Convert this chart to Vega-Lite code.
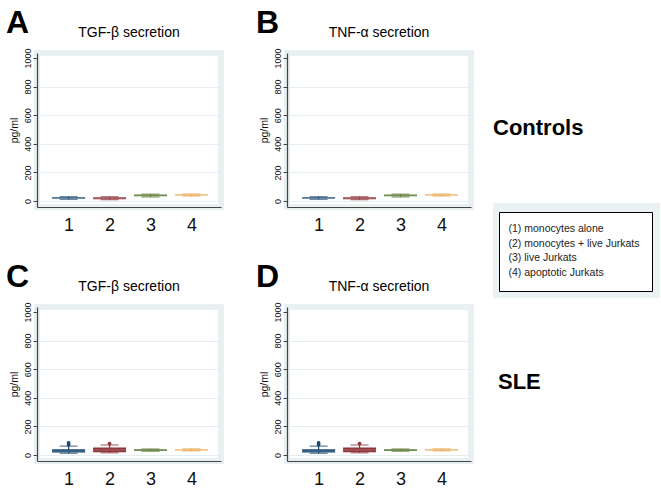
{
  "$schema": "https://vega.github.io/schema/vega-lite/v6.json",
  "padding": {"left": 5, "top": 6, "right": 0, "bottom": 0},
  "background": "white",
  "datasets": {
    "boxes": [
      {"panel": "A", "g": 1, "label": "(1) monocytes alone", "lo": 12, "q1": 15, "med": 20, "q3": 27, "hi": 30},
      {"panel": "A", "g": 2, "label": "(2) monocytes + live Jurkats", "lo": 9, "q1": 13, "med": 20, "q3": 27, "hi": 30},
      {"panel": "A", "g": 3, "label": "(3) live Jurkats", "lo": 28, "q1": 33, "med": 40, "q3": 46, "hi": 48},
      {"panel": "A", "g": 4, "label": "(4) apoptotic Jurkats", "lo": 35, "q1": 38, "med": 43, "q3": 47, "hi": 49},
      {"panel": "B", "g": 1, "label": "(1) monocytes alone", "lo": 12, "q1": 15, "med": 20, "q3": 27, "hi": 30},
      {"panel": "B", "g": 2, "label": "(2) monocytes + live Jurkats", "lo": 9, "q1": 13, "med": 20, "q3": 27, "hi": 30},
      {"panel": "B", "g": 3, "label": "(3) live Jurkats", "lo": 28, "q1": 33, "med": 40, "q3": 46, "hi": 48},
      {"panel": "B", "g": 4, "label": "(4) apoptotic Jurkats", "lo": 35, "q1": 38, "med": 43, "q3": 47, "hi": 49},
      {"panel": "C", "g": 1, "label": "(1) monocytes alone", "lo": 12, "q1": 18, "med": 28, "q3": 40, "hi": 62},
      {"panel": "C", "g": 2, "label": "(2) monocytes + live Jurkats", "lo": 15, "q1": 20, "med": 35, "q3": 52, "hi": 70},
      {"panel": "C", "g": 3, "label": "(3) live Jurkats", "lo": 26, "q1": 28, "med": 34, "q3": 40, "hi": 42},
      {"panel": "C", "g": 4, "label": "(4) apoptotic Jurkats", "lo": 29, "q1": 31, "med": 36, "q3": 41, "hi": 43},
      {"panel": "D", "g": 1, "label": "(1) monocytes alone", "lo": 12, "q1": 18, "med": 28, "q3": 40, "hi": 62},
      {"panel": "D", "g": 2, "label": "(2) monocytes + live Jurkats", "lo": 15, "q1": 20, "med": 35, "q3": 52, "hi": 70},
      {"panel": "D", "g": 3, "label": "(3) live Jurkats", "lo": 26, "q1": 28, "med": 34, "q3": 40, "hi": 42},
      {"panel": "D", "g": 4, "label": "(4) apoptotic Jurkats", "lo": 29, "q1": 31, "med": 36, "q3": 41, "hi": 43}
    ],
    "outliers": [
      {"panel": "C", "g": 1, "label": "(1) monocytes alone", "v": 72},
      {"panel": "C", "g": 1, "label": "(1) monocytes alone", "v": 85},
      {"panel": "C", "g": 2, "label": "(2) monocytes + live Jurkats", "v": 80},
      {"panel": "D", "g": 1, "label": "(1) monocytes alone", "v": 72},
      {"panel": "D", "g": 1, "label": "(1) monocytes alone", "v": 85},
      {"panel": "D", "g": 2, "label": "(2) monocytes + live Jurkats", "v": 80}
    ],
    "empty": []
  },
  "hconcat": [
    {
      "hconcat": [
        {
          "vconcat": [
            {
              "title": {"text": "A", "anchor": "start", "frame": "bounds", "fontSize": 32, "fontWeight": "bold", "offset": -17},
              "vconcat": [
                {
                  "width": 184, "height": 154,
                  "title": {"text": "TGF-β secretion", "fontSize": 14, "fontWeight": "normal", "offset": 8},
                  "view": {"stroke": "#e8f0f2", "strokeWidth": 6, "fill": "white"},
                  "encoding": {
                    "x": {"field": "g", "type": "quantitative", "scale": {"domain": [0.35, 4.6], "nice": false, "zero": false}, "axis": {"values": [1, 2, 3, 4], "title": null, "ticks": false, "labelFontSize": 18, "labelPadding": 9, "grid": false, "labelFlush": false, "format": "d"}},
                    "color": {"field": "label", "type": "nominal", "scale": {"domain": ["(1) monocytes alone", "(2) monocytes + live Jurkats", "(3) live Jurkats", "(4) apoptotic Jurkats"], "range": ["#1a476f", "#90353b", "#55752f", "#e8a040"]}, "legend": {"title": null}}
                  },
                  "layer": [
                    {
                      "data": {"name": "boxes"},
                      "transform": [{"filter": "datum.panel === 'A'"}],
                      "layer": [
                        {"mark": {"type": "rule", "strokeWidth": 1.2}, "encoding": {"y": {"field": "lo", "type": "quantitative", "scale": {"domain": [-42, 1035], "nice": false, "zero": false}, "axis": {"title": "pg/ml", "values": [0, 200, 400, 600, 800, 1000], "format": "d", "labelOverlap": false, "gridColor": {"condition": {"test": "datum.value === 1000", "value": "transparent"}, "value": "#e4edf0"}}}, "y2": {"field": "hi"}}},
                        {"mark": {"type": "tick", "orient": "horizontal", "size": 18, "thickness": 1.2}, "encoding": {"y": {"field": "hi", "type": "quantitative", "scale": {"domain": [-42, 1035], "nice": false, "zero": false}, "axis": {"title": "pg/ml", "values": [0, 200, 400, 600, 800, 1000], "format": "d", "labelOverlap": false}}}},
                        {"mark": {"type": "tick", "orient": "horizontal", "size": 18, "thickness": 1.2}, "encoding": {"y": {"field": "lo", "type": "quantitative", "scale": {"domain": [-42, 1035], "nice": false, "zero": false}, "axis": {"title": "pg/ml", "values": [0, 200, 400, 600, 800, 1000], "format": "d", "labelOverlap": false}}}},
                        {"mark": {"type": "bar", "width": 33}, "encoding": {"y": {"field": "q1", "type": "quantitative", "scale": {"domain": [-42, 1035], "nice": false, "zero": false}, "axis": {"title": "pg/ml", "values": [0, 200, 400, 600, 800, 1000], "format": "d", "labelOverlap": false}}, "y2": {"field": "q3"}}},
                        {"mark": {"type": "tick", "orient": "horizontal", "size": 33, "thickness": 1}, "encoding": {"y": {"field": "med", "type": "quantitative", "scale": {"domain": [-42, 1035], "nice": false, "zero": false}, "axis": {"title": "pg/ml", "values": [0, 200, 400, 600, 800, 1000], "format": "d", "labelOverlap": false}}, "color": {"value": "#ffffff"}, "opacity": {"value": 0.25}}}
                      ]
                    }
                  ]
                }
              ]
            },
            {
              "title": {"text": "C", "anchor": "start", "frame": "bounds", "fontSize": 32, "fontWeight": "bold", "offset": -17},
              "vconcat": [
                {
                  "width": 184, "height": 154,
                  "title": {"text": "TGF-β secretion", "fontSize": 14, "fontWeight": "normal", "offset": 8},
                  "view": {"stroke": "#e8f0f2", "strokeWidth": 6, "fill": "white"},
                  "encoding": {
                    "x": {"field": "g", "type": "quantitative", "scale": {"domain": [0.35, 4.6], "nice": false, "zero": false}, "axis": {"values": [1, 2, 3, 4], "title": null, "ticks": false, "labelFontSize": 18, "labelPadding": 9, "grid": false, "labelFlush": false, "format": "d"}},
                    "color": {"field": "label", "type": "nominal", "scale": {"domain": ["(1) monocytes alone", "(2) monocytes + live Jurkats", "(3) live Jurkats", "(4) apoptotic Jurkats"], "range": ["#1a476f", "#90353b", "#55752f", "#e8a040"]}, "legend": {"title": null}}
                  },
                  "layer": [
                    {
                      "data": {"name": "boxes"},
                      "transform": [{"filter": "datum.panel === 'C'"}],
                      "layer": [
                        {"mark": {"type": "rule", "strokeWidth": 1.2}, "encoding": {"y": {"field": "lo", "type": "quantitative", "scale": {"domain": [-42, 1035], "nice": false, "zero": false}, "axis": {"title": "pg/ml", "values": [0, 200, 400, 600, 800, 1000], "format": "d", "labelOverlap": false, "gridColor": {"condition": {"test": "datum.value === 1000", "value": "transparent"}, "value": "#e4edf0"}}}, "y2": {"field": "hi"}}},
                        {"mark": {"type": "tick", "orient": "horizontal", "size": 18, "thickness": 1.2}, "encoding": {"y": {"field": "hi", "type": "quantitative", "scale": {"domain": [-42, 1035], "nice": false, "zero": false}, "axis": {"title": "pg/ml", "values": [0, 200, 400, 600, 800, 1000], "format": "d", "labelOverlap": false}}}},
                        {"mark": {"type": "tick", "orient": "horizontal", "size": 18, "thickness": 1.2}, "encoding": {"y": {"field": "lo", "type": "quantitative", "scale": {"domain": [-42, 1035], "nice": false, "zero": false}, "axis": {"title": "pg/ml", "values": [0, 200, 400, 600, 800, 1000], "format": "d", "labelOverlap": false}}}},
                        {"mark": {"type": "bar", "width": 33}, "encoding": {"y": {"field": "q1", "type": "quantitative", "scale": {"domain": [-42, 1035], "nice": false, "zero": false}, "axis": {"title": "pg/ml", "values": [0, 200, 400, 600, 800, 1000], "format": "d", "labelOverlap": false}}, "y2": {"field": "q3"}}},
                        {"mark": {"type": "tick", "orient": "horizontal", "size": 33, "thickness": 1}, "encoding": {"y": {"field": "med", "type": "quantitative", "scale": {"domain": [-42, 1035], "nice": false, "zero": false}, "axis": {"title": "pg/ml", "values": [0, 200, 400, 600, 800, 1000], "format": "d", "labelOverlap": false}}, "color": {"value": "#ffffff"}, "opacity": {"value": 0.25}}}
                      ]
                    },
                    {
                      "data": {"name": "outliers"},
                      "transform": [{"filter": "datum.panel === 'C'"}],
                      "mark": {"type": "point", "filled": true, "size": 14, "opacity": 1},
                      "encoding": {"y": {"field": "v", "type": "quantitative", "scale": {"domain": [-42, 1035], "nice": false, "zero": false}, "axis": {"title": "pg/ml", "values": [0, 200, 400, 600, 800, 1000], "format": "d", "labelOverlap": false}}}
                    }
                  ]
                }
              ]
            }
          ],
          "spacing": 23
        },
        {
          "vconcat": [
            {
              "title": {"text": "B", "anchor": "start", "frame": "bounds", "fontSize": 32, "fontWeight": "bold", "offset": -17},
              "vconcat": [
                {
                  "width": 184, "height": 154,
                  "title": {"text": "TNF-α secretion", "fontSize": 14, "fontWeight": "normal", "offset": 8},
                  "view": {"stroke": "#e8f0f2", "strokeWidth": 6, "fill": "white"},
                  "encoding": {
                    "x": {"field": "g", "type": "quantitative", "scale": {"domain": [0.35, 4.6], "nice": false, "zero": false}, "axis": {"values": [1, 2, 3, 4], "title": null, "ticks": false, "labelFontSize": 18, "labelPadding": 9, "grid": false, "labelFlush": false, "format": "d"}},
                    "color": {"field": "label", "type": "nominal", "scale": {"domain": ["(1) monocytes alone", "(2) monocytes + live Jurkats", "(3) live Jurkats", "(4) apoptotic Jurkats"], "range": ["#1a476f", "#90353b", "#55752f", "#e8a040"]}, "legend": {"title": null}}
                  },
                  "layer": [
                    {
                      "data": {"name": "boxes"},
                      "transform": [{"filter": "datum.panel === 'B'"}],
                      "layer": [
                        {"mark": {"type": "rule", "strokeWidth": 1.2}, "encoding": {"y": {"field": "lo", "type": "quantitative", "scale": {"domain": [-42, 1035], "nice": false, "zero": false}, "axis": {"title": "pg/ml", "values": [0, 200, 400, 600, 800, 1000], "format": "d", "labelOverlap": false, "gridColor": {"condition": {"test": "datum.value === 1000", "value": "transparent"}, "value": "#e4edf0"}}}, "y2": {"field": "hi"}}},
                        {"mark": {"type": "tick", "orient": "horizontal", "size": 18, "thickness": 1.2}, "encoding": {"y": {"field": "hi", "type": "quantitative", "scale": {"domain": [-42, 1035], "nice": false, "zero": false}, "axis": {"title": "pg/ml", "values": [0, 200, 400, 600, 800, 1000], "format": "d", "labelOverlap": false}}}},
                        {"mark": {"type": "tick", "orient": "horizontal", "size": 18, "thickness": 1.2}, "encoding": {"y": {"field": "lo", "type": "quantitative", "scale": {"domain": [-42, 1035], "nice": false, "zero": false}, "axis": {"title": "pg/ml", "values": [0, 200, 400, 600, 800, 1000], "format": "d", "labelOverlap": false}}}},
                        {"mark": {"type": "bar", "width": 33}, "encoding": {"y": {"field": "q1", "type": "quantitative", "scale": {"domain": [-42, 1035], "nice": false, "zero": false}, "axis": {"title": "pg/ml", "values": [0, 200, 400, 600, 800, 1000], "format": "d", "labelOverlap": false}}, "y2": {"field": "q3"}}},
                        {"mark": {"type": "tick", "orient": "horizontal", "size": 33, "thickness": 1}, "encoding": {"y": {"field": "med", "type": "quantitative", "scale": {"domain": [-42, 1035], "nice": false, "zero": false}, "axis": {"title": "pg/ml", "values": [0, 200, 400, 600, 800, 1000], "format": "d", "labelOverlap": false}}, "color": {"value": "#ffffff"}, "opacity": {"value": 0.25}}}
                      ]
                    }
                  ]
                }
              ]
            },
            {
              "title": {"text": "D", "anchor": "start", "frame": "bounds", "fontSize": 32, "fontWeight": "bold", "offset": -17},
              "vconcat": [
                {
                  "width": 184, "height": 154,
                  "title": {"text": "TNF-α secretion", "fontSize": 14, "fontWeight": "normal", "offset": 8},
                  "view": {"stroke": "#e8f0f2", "strokeWidth": 6, "fill": "white"},
                  "encoding": {
                    "x": {"field": "g", "type": "quantitative", "scale": {"domain": [0.35, 4.6], "nice": false, "zero": false}, "axis": {"values": [1, 2, 3, 4], "title": null, "ticks": false, "labelFontSize": 18, "labelPadding": 9, "grid": false, "labelFlush": false, "format": "d"}},
                    "color": {"field": "label", "type": "nominal", "scale": {"domain": ["(1) monocytes alone", "(2) monocytes + live Jurkats", "(3) live Jurkats", "(4) apoptotic Jurkats"], "range": ["#1a476f", "#90353b", "#55752f", "#e8a040"]}, "legend": {"title": null}}
                  },
                  "layer": [
                    {
                      "data": {"name": "boxes"},
                      "transform": [{"filter": "datum.panel === 'D'"}],
                      "layer": [
                        {"mark": {"type": "rule", "strokeWidth": 1.2}, "encoding": {"y": {"field": "lo", "type": "quantitative", "scale": {"domain": [-42, 1035], "nice": false, "zero": false}, "axis": {"title": "pg/ml", "values": [0, 200, 400, 600, 800, 1000], "format": "d", "labelOverlap": false, "gridColor": {"condition": {"test": "datum.value === 1000", "value": "transparent"}, "value": "#e4edf0"}}}, "y2": {"field": "hi"}}},
                        {"mark": {"type": "tick", "orient": "horizontal", "size": 18, "thickness": 1.2}, "encoding": {"y": {"field": "hi", "type": "quantitative", "scale": {"domain": [-42, 1035], "nice": false, "zero": false}, "axis": {"title": "pg/ml", "values": [0, 200, 400, 600, 800, 1000], "format": "d", "labelOverlap": false}}}},
                        {"mark": {"type": "tick", "orient": "horizontal", "size": 18, "thickness": 1.2}, "encoding": {"y": {"field": "lo", "type": "quantitative", "scale": {"domain": [-42, 1035], "nice": false, "zero": false}, "axis": {"title": "pg/ml", "values": [0, 200, 400, 600, 800, 1000], "format": "d", "labelOverlap": false}}}},
                        {"mark": {"type": "bar", "width": 33}, "encoding": {"y": {"field": "q1", "type": "quantitative", "scale": {"domain": [-42, 1035], "nice": false, "zero": false}, "axis": {"title": "pg/ml", "values": [0, 200, 400, 600, 800, 1000], "format": "d", "labelOverlap": false}}, "y2": {"field": "q3"}}},
                        {"mark": {"type": "tick", "orient": "horizontal", "size": 33, "thickness": 1}, "encoding": {"y": {"field": "med", "type": "quantitative", "scale": {"domain": [-42, 1035], "nice": false, "zero": false}, "axis": {"title": "pg/ml", "values": [0, 200, 400, 600, 800, 1000], "format": "d", "labelOverlap": false}}, "color": {"value": "#ffffff"}, "opacity": {"value": 0.25}}}
                      ]
                    },
                    {
                      "data": {"name": "outliers"},
                      "transform": [{"filter": "datum.panel === 'D'"}],
                      "mark": {"type": "point", "filled": true, "size": 14, "opacity": 1},
                      "encoding": {"y": {"field": "v", "type": "quantitative", "scale": {"domain": [-42, 1035], "nice": false, "zero": false}, "axis": {"title": "pg/ml", "values": [0, 200, 400, 600, 800, 1000], "format": "d", "labelOverlap": false}}}
                    }
                  ]
                }
              ]
            }
          ],
          "spacing": 23
        }
      ],
      "spacing": 31
    },
    {
      "vconcat": [
        {
          "width": 167, "height": 150,
          "data": {"values": [{"t": "Controls"}]},
          "view": {"fill": "white", "stroke": null},
          "mark": {"type": "text", "align": "left", "baseline": "middle", "fontSize": 22, "fontWeight": "bold", "color": "black"},
          "encoding": {"text": {"field": "t"}, "x": {"datum": 0, "type": "quantitative", "scale": {"domain": [0, 1]}, "axis": null}}
        },
        {"width": 167, "height": 95, "data": {"name": "empty"}, "mark": "text", "encoding": {}, "view": {"fill": "#eaf2f4", "stroke": null}},
        {
          "width": 167, "height": 168,
          "data": {"values": [{"t": "SLE"}]},
          "view": {"fill": "white", "stroke": null},
          "mark": {"type": "text", "align": "left", "baseline": "middle", "fontSize": 22, "fontWeight": "bold", "color": "black"},
          "encoding": {"text": {"field": "t"}, "x": {"datum": 0.03, "type": "quantitative", "scale": {"domain": [0, 1]}, "axis": null}}
        }
      ],
      "spacing": 0
    }
  ],
  "spacing": 19,
  "config": {
    "font": "Liberation Sans",
    "view": {"stroke": null},
    "title": {"color": "black", "font": "Liberation Sans"},
    "axis": {"labelFont": "Liberation Sans", "titleFont": "Liberation Sans", "labelColor": "#111", "titleColor": "#111", "domainColor": "#444", "domainWidth": 1.2, "tickColor": "#444"},
    "axisY": {"labelAngle": 270, "labelFontSize": 9, "labelPadding": 1, "tickSize": 4, "tickCount": 6, "labelOverlap": false, "titleFontSize": 10.5, "titleFontWeight": "normal", "titlePadding": 4, "grid": true, "gridColor": "#e4edf0"},
    "axisX": {"grid": false},
    "legend": {"orient": "none", "legendX": 462, "legendY": 159, "symbolType": "circle", "symbolSize": 1, "symbolOpacity": 0, "symbolStrokeWidth": 0, "labelOffset": -13, "labelFontSize": 10.5, "labelFont": "Liberation Sans", "labelColor": "#222", "padding": 12, "rowPadding": 3.5, "strokeColor": "black", "fillColor": "white"}
  }
}
